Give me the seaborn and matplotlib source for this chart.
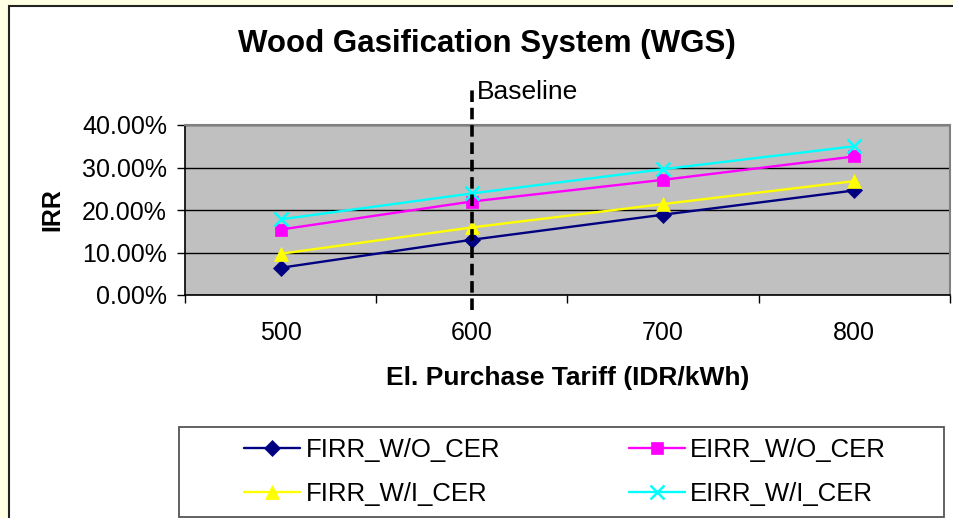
import matplotlib
matplotlib.use("Agg")
import numpy as np
import pandas as pd
import matplotlib.pyplot as plt
import matplotlib.transforms as mtransforms
from matplotlib.patches import Rectangle
from matplotlib.ticker import FixedLocator, FuncFormatter, NullFormatter
import seaborn as sns

# ---- data ----
tariffs = ["500", "600", "700", "800"]
firr_wo_cer = [0.064, 0.130, 0.189, 0.246]
eirr_wo_cer = [0.154, 0.220, 0.271, 0.326]
firr_wi_cer = [0.097, 0.159, 0.214, 0.268]
eirr_wi_cer = [0.178, 0.239, 0.296, 0.350]
series_names = ["FIRR_W/O_CER", "EIRR_W/O_CER", "FIRR_W/I_CER", "EIRR_W/I_CER"]
y_ticks = [0.0, 0.1, 0.2, 0.3, 0.4]
baseline_tariff = "600"

series_values = {
    "FIRR_W/O_CER": firr_wo_cer,
    "EIRR_W/O_CER": eirr_wo_cer,
    "FIRR_W/I_CER": firr_wi_cer,
    "EIRR_W/I_CER": eirr_wi_cer,
}
colors = {"FIRR_W/O_CER": "#000080", "EIRR_W/O_CER": "#FF00FF",
          "FIRR_W/I_CER": "#FFFF00", "EIRR_W/I_CER": "#00FFFF"}
markers = {"FIRR_W/O_CER": "D", "EIRR_W/O_CER": "s",
           "FIRR_W/I_CER": "^", "EIRR_W/I_CER": "x"}
msizes = {"FIRR_W/O_CER": 8, "EIRR_W/O_CER": 8.5,
          "FIRR_W/I_CER": 10, "EIRR_W/I_CER": 9.5}

sns.set_style("white")
plt.rcParams["font.family"] = ["Liberation Sans", "DejaVu Sans"]
plt.rcParams["text.color"] = "black"
plt.rcParams["axes.labelcolor"] = "black"
plt.rcParams["xtick.color"] = "black"
plt.rcParams["ytick.color"] = "black"

W, H = 954, 518
fig = plt.figure(figsize=(W / 100, H / 100), dpi=100)
fig.patch.set_facecolor("#FFFFE3")

def fx(px):
    return px / W

def fy(py):
    return 1 - py / H

# chart area (white with dark border)
fig.patches.append(Rectangle((fx(9), fy(530)), fx(960) - fx(9), fy(6) - fy(530),
                             transform=fig.transFigure, facecolor="white",
                             edgecolor="#222222", lw=1.5, zorder=-2))

ax = fig.add_axes([fx(185), fy(295), fx(950) - fx(185), fy(125) - fy(295)])
ax.set_zorder(1)
ax.set_facecolor("#C0C0C0")

for name in series_names:
    df = pd.DataFrame({"tariff": tariffs, "irr": series_values[name]})
    mk = markers[name]
    kw = dict(markeredgecolor=colors[name], markerfacecolor=colors[name])
    if mk == "x":
        kw["markeredgewidth"] = 1.8
    else:
        kw["markeredgewidth"] = 0.5
    sns.lineplot(data=df, x="tariff", y="irr", ax=ax, color=colors[name],
                 marker=mk, markersize=msizes[name], lw=1.7, label=name,
                 zorder=3, **kw)

ax.set_xlim(-0.5, len(tariffs) - 0.5)
ax.set_ylim(0, 0.4)
ax.yaxis.set_major_locator(FixedLocator(y_ticks))
ax.yaxis.set_major_formatter(FuncFormatter(lambda v, p: f"{v*100:.2f}%"))
ax.xaxis.set_major_locator(FixedLocator(range(len(tariffs))))
ax.xaxis.set_minor_locator(FixedLocator(np.arange(-0.5, len(tariffs), 1.0)))
ax.xaxis.set_minor_formatter(NullFormatter())
ax.tick_params(axis="x", which="major", length=0, pad=19, labelsize=18, colors="black")
ax.tick_params(axis="x", which="minor", length=6, width=1, direction="out",
               color="black", bottom=True)
ax.tick_params(axis="y", which="major", length=6, width=1, direction="out",
               color="black", pad=7, labelsize=18, left=True)
ax.yaxis.grid(True, color="black", lw=1)
ax.xaxis.grid(False)
ax.set_axisbelow(True)
for s in ["left", "bottom"]:
    ax.spines[s].set_color("black")
    ax.spines[s].set_linewidth(1.2)
for s in ["top", "right"]:
    ax.spines[s].set_color("#808080")
    ax.spines[s].set_linewidth(1.5)

ax.set_xlabel("El. Purchase Tariff (IDR/kWh)", fontsize=19, fontweight="bold")
ax.xaxis.label.set_va("center")
ax.xaxis.set_label_coords(0.5, (295 - 378) / 170)
ax.set_ylabel("IRR", fontsize=18, fontweight="bold")
ax.yaxis.label.set_va("center")
ax.yaxis.set_label_coords((52 - 185) / 765, 0.5)

# baseline marker
bx = tariffs.index(baseline_tariff)
trans = mtransforms.blended_transform_factory(ax.transData, ax.transAxes)
ax.plot([bx, bx], [(295 - 310) / 170, (295 - 88) / 170], transform=trans,
        color="black", lw=2.6, ls=(0, (3.2, 1.6)), clip_on=False, zorder=5)
fig.text(fx(477), fy(92), "Baseline", fontsize=19, va="center", ha="left")

# title
fig.text(fx(487), fy(44), "Wood Gasification System (WGS)", fontsize=22.5,
         fontweight="bold", ha="center", va="center")

# legend
handles, labels = ax.get_legend_handles_labels()
hmap = dict(zip(labels, handles))
order = ["FIRR_W/O_CER", "FIRR_W/I_CER", "EIRR_W/O_CER", "EIRR_W/I_CER"]
if ax.get_legend():
    ax.get_legend().remove()
leg = fig.legend([hmap[o] for o in order], order, ncol=2, loc="center",
                 bbox_to_anchor=(fx(565), fy(472)), frameon=False, fontsize=18.5,
                 handlelength=2.2, handletextpad=0.2, columnspacing=5.0,
                 labelspacing=0.75)
fig.patches.append(Rectangle((fx(179), fy(517)), fx(944) - fx(179), fy(427) - fy(517),
                             transform=fig.transFigure, facecolor="white",
                             edgecolor="#555555", lw=1.3, zorder=-1))

fig.savefig("out.png", dpi=100, facecolor=fig.get_facecolor())
